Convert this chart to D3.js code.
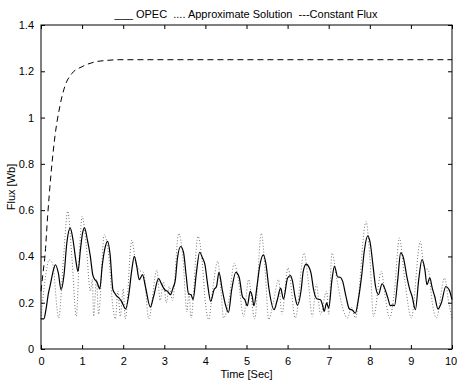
<!DOCTYPE html>
<meta charset="utf-8">
<script src="https://d3js.org/d3.v7.min.js"></script>
<style>
  body { margin: 0; background: #fff; }
  text { font-family: "Liberation Sans", Arial, sans-serif; }
</style>
<div id="chart"></div>
<script>

// constant flux (dashed)
var fluxT = [0, 0.05, 0.1, 0.16, 0.24, 0.34, 0.46, 0.58, 0.75, 1.0, 1.3, 1.6, 1.9, 2.5, 10];
var fluxV = [0.25, 0.33, 0.41, 0.57, 0.75, 0.92, 1.05, 1.135, 1.19, 1.22, 1.24, 1.247, 1.25, 1.25, 1.25];

// OPEC (solid)
var opecT = [0, 0.07, 0.12, 0.18, 0.23, 0.3, 0.35, 0.42, 0.49, 0.56, 0.63, 0.71, 0.78, 0.85, 0.9, 0.96, 1.01, 1.06, 1.13, 1.2, 1.26, 1.31, 1.36, 1.4, 1.43, 1.49, 1.55, 1.62, 1.68, 1.75, 1.8, 1.85, 1.9, 1.96, 2.06,
  2.13, 2.21, 2.27, 2.33, 2.39, 2.47, 2.54, 2.66, 2.74, 2.86, 2.94, 3.01, 3.08, 3.15, 3.21, 3.27, 3.32, 3.4, 3.47, 3.53, 3.59, 3.65, 3.7, 3.78, 3.86, 3.93,
  3.99, 4.05, 4.13, 4.21, 4.27, 4.33, 4.41, 4.49, 4.56, 4.64, 4.74, 4.82, 4.9, 4.96, 5.02, 5.09, 5.14, 5.18, 5.26, 5.32, 5.41, 5.47, 5.55, 5.67, 5.75, 5.83, 5.9,
  6.0, 6.07, 6.12, 6.18, 6.24, 6.33, 6.38, 6.45, 6.53, 6.57, 6.63, 6.71, 6.8, 6.85, 6.89, 6.95, 7.0, 7.08, 7.14, 7.22, 7.28, 7.34, 7.42, 7.5, 7.58, 7.65, 7.72, 7.8, 7.87, 7.95,
  8.01, 8.08, 8.14, 8.21, 8.3, 8.36, 8.44, 8.5, 8.56, 8.6, 8.68, 8.75, 8.82, 8.9, 8.97, 9.03, 9.11, 9.19, 9.27, 9.34, 9.39, 9.46, 9.52, 9.58, 9.66, 9.74, 9.85, 9.93, 10];
var opecV = [0.13, 0.13, 0.17, 0.24, 0.28, 0.34, 0.364, 0.33, 0.256, 0.32, 0.46, 0.523, 0.47, 0.38, 0.335, 0.43, 0.50, 0.523, 0.47, 0.40, 0.32, 0.30, 0.29, 0.27, 0.26, 0.36, 0.43, 0.465, 0.41, 0.256, 0.24, 0.227, 0.22, 0.206, 0.173,
  0.227, 0.343, 0.40, 0.357, 0.30, 0.321, 0.27, 0.181, 0.227, 0.304, 0.278, 0.256, 0.249, 0.235, 0.263, 0.30, 0.393, 0.443, 0.415, 0.321, 0.238, 0.235, 0.213, 0.328, 0.418, 0.393,
  0.364, 0.285, 0.206, 0.256, 0.27, 0.331, 0.256, 0.19, 0.158, 0.256, 0.331, 0.311, 0.227, 0.213, 0.187, 0.249, 0.227, 0.187, 0.278, 0.357, 0.407, 0.371, 0.256, 0.17, 0.213, 0.263, 0.216,
  0.307, 0.317, 0.292, 0.227, 0.19, 0.256, 0.335, 0.367, 0.35, 0.328, 0.259, 0.217, 0.213, 0.19, 0.163, 0.199, 0.177, 0.30, 0.357, 0.311, 0.31, 0.292, 0.227, 0.174, 0.167, 0.155, 0.213, 0.314, 0.429, 0.489,
  0.458, 0.357, 0.27, 0.235, 0.282, 0.263, 0.22, 0.187, 0.19, 0.187, 0.30, 0.415, 0.393, 0.314, 0.259, 0.227, 0.17, 0.30, 0.386, 0.343, 0.278, 0.307, 0.263, 0.227, 0.173, 0.199, 0.27, 0.256, 0.213];

// approximate solution (dotted)
var approxT = [0, 0.1, 0.2, 0.28, 0.43, 0.55, 0.65, 0.75, 0.86, 0.93, 1.0, 1.1, 1.2, 1.25, 1.28, 1.35, 1.4, 1.54, 1.65, 1.75, 1.81, 1.87, 1.93, 2.0, 2.05,
  2.21, 2.3, 2.4, 2.5, 2.62, 2.82, 2.9, 2.98, 3.05, 3.12, 3.2, 3.35, 3.45, 3.55, 3.6, 3.65, 3.82, 3.92, 4.0, 4.08, 4.18, 4.3, 4.38, 4.44, 4.58, 4.7, 4.8, 4.93,
  5.05, 5.2, 5.36, 5.45, 5.54, 5.65, 5.78, 5.86, 6.01, 6.19, 6.4, 6.5, 6.6, 6.7, 6.8, 6.95, 7.0, 7.08, 7.2, 7.35, 7.46, 7.55, 7.65, 7.91, 8.0, 8.09,
  8.28, 8.38, 8.48, 8.6, 8.72, 8.85, 9.01, 9.23, 9.32, 9.42, 9.52, 9.62, 9.82, 9.92, 10];
var approxV = [0.13, 0.30, 0.385, 0.37, 0.134, 0.40, 0.595, 0.40, 0.141, 0.40, 0.573, 0.45, 0.25, 0.30, 0.141, 0.30, 0.15, 0.494, 0.40, 0.18, 0.13, 0.25, 0.14, 0.26, 0.13,
  0.47, 0.38, 0.34, 0.33, 0.13, 0.34, 0.21, 0.29, 0.20, 0.27, 0.21, 0.50, 0.40, 0.16, 0.25, 0.134, 0.487, 0.38, 0.20, 0.127, 0.26, 0.379, 0.25, 0.134, 0.22, 0.37, 0.30, 0.141,
  0.30, 0.13, 0.50, 0.35, 0.127, 0.20, 0.30, 0.15, 0.35, 0.134, 0.415, 0.30, 0.14, 0.28, 0.15, 0.25, 0.15, 0.415, 0.30, 0.17, 0.134, 0.18, 0.134, 0.551, 0.40, 0.141,
  0.335, 0.22, 0.134, 0.25, 0.48, 0.30, 0.134, 0.465, 0.35, 0.343, 0.20, 0.134, 0.307, 0.20, 0.134];

var xTicks = [0, 1, 2, 3, 4, 5, 6, 7, 8, 9, 10];
var yTicks = [0, 0.2, 0.4, 0.6, 0.8, 1, 1.2, 1.4];

var W = 457, H = 381;
var margin = {top: 25, right: 5, bottom: 32, left: 41},
    width = W - margin.left - margin.right,
    height = H - margin.top - margin.bottom;

var svg = d3.select("#chart").append("svg")
    .attr("width", W)
    .attr("height", H)
  .append("g")
    .attr("transform", "translate(" + margin.left + "," + margin.top + ")");

var x = d3.scaleLinear().domain([0, 10]).range([0, width]);
var y = d3.scaleLinear().domain([0, 1.4]).range([height, 0]);

function pts(ts, vs) { return ts.map(function(t, i) { return [t, vs[i]]; }); }

var line = d3.line()
  .x(function(d) { return x(d[0]); })
  .y(function(d) { return y(d[1]); })
  .curve(d3.curveMonotoneX);

// dotted approx
svg.append("path")
  .attr("d", line(pts(approxT, approxV)))
  .attr("fill", "none")
  .attr("stroke", "#777")
  .attr("stroke-width", 1)
  .attr("stroke-dasharray", "1,2");

// OPEC
svg.append("path")
  .attr("d", line(pts(opecT, opecV)))
  .attr("fill", "none")
  .attr("stroke", "#000")
  .attr("stroke-width", 1.2);

// constant flux
svg.append("path")
  .attr("d", line(pts(fluxT, fluxV)))
  .attr("fill", "none")
  .attr("stroke", "#000")
  .attr("stroke-width", 1)
  .attr("stroke-dasharray", "6,4");

// axes, ticks inward on all sides
function noText(g) { g.selectAll("text").remove(); g.select(".domain").remove(); }

svg.append("g")
  .attr("class", "xaxis")
  .attr("transform", "translate(0," + height + ")")
  .call(d3.axisBottom(x).tickValues(xTicks).tickSizeInner(-4).tickSizeOuter(0).tickPadding(8).tickFormat(d3.format("d")))
  .call(function(g) { g.select(".domain").remove(); });

svg.append("g")
  .call(d3.axisTop(x).tickValues(xTicks).tickSizeInner(-4).tickSizeOuter(0))
  .call(noText);

svg.append("g")
  .call(d3.axisLeft(y).tickValues(yTicks).tickSizeInner(-4).tickSizeOuter(0).tickPadding(7).tickFormat(function(d) { return d3.format("~g")(d); }))
  .call(function(g) { g.select(".domain").remove(); });

svg.append("g")
  .attr("transform", "translate(" + width + ",0)")
  .call(d3.axisRight(y).tickValues(yTicks).tickSizeInner(-4).tickSizeOuter(0))
  .call(noText);

svg.selectAll(".tick text")
  .attr("font-family", "Liberation Sans, Arial, sans-serif")
  .attr("font-size", 11)
  .attr("fill", "#000");

// keep the last x label inside the picture
svg.selectAll(".xaxis .tick text")
  .filter(function(d) { return d === 10; })
  .attr("dx", -1.5);

svg.append("rect")
  .attr("width", width)
  .attr("height", height)
  .attr("fill", "none")
  .attr("stroke", "#000")
  .attr("stroke-width", 1);

// labels
svg.append("text")
  .attr("x", width / 2)
  .attr("y", height + 29)
  .attr("text-anchor", "middle")
  .attr("font-size", 11)
  .text("Time [Sec]");

svg.append("text")
  .attr("transform", "translate(" + (-26) + "," + (height / 2) + ")rotate(-90)")
  .attr("text-anchor", "middle")
  .attr("font-size", 11)
  .text("Flux [Wb]");

svg.append("text")
  .attr("x", 246 - margin.left)
  .attr("y", -7)
  .attr("text-anchor", "middle")
  .attr("font-size", 11)
  .style("white-space", "pre")
  .text("___ OPEC  .... Approximate Solution  ---Constant Flux");

</script>
